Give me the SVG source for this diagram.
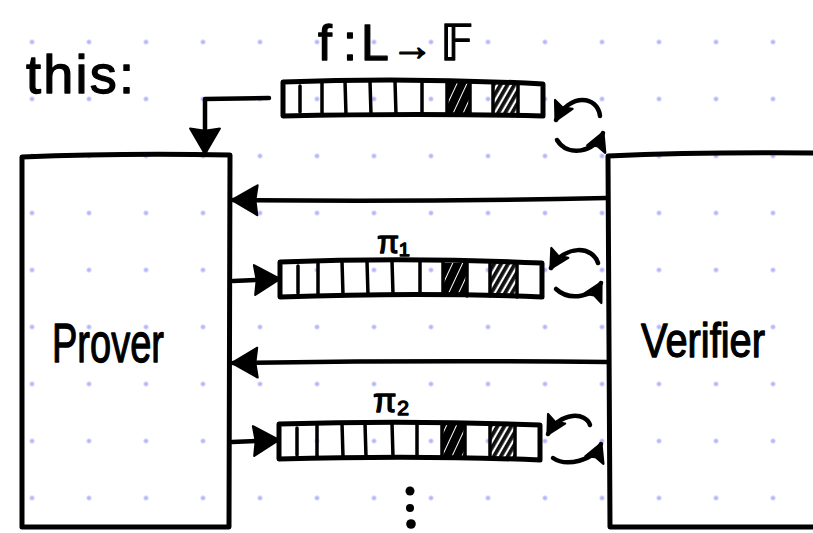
<svg xmlns="http://www.w3.org/2000/svg" width="813" height="533" viewBox="0 0 813 533">
<style>
.ln{fill:none;stroke:#000;stroke-width:4.5;stroke-linecap:round;stroke-linejoin:round}
.bx{fill:none;stroke:#000;stroke-width:5;stroke-linecap:round;stroke-linejoin:round}
.tp{fill:#fff;fill-opacity:0;stroke:#000;stroke-width:5;stroke-linejoin:round}
.cl{stroke:#000;stroke-width:3.5;stroke-linecap:round}
.hw{font-family:"Liberation Sans","DejaVu Sans",sans-serif;fill:#000;stroke:#000;stroke-width:1.3;stroke-linejoin:round}
</style>
<defs>
<pattern id="grid" patternUnits="userSpaceOnUse" x="3.5" y="13.5" width="57" height="57">
<circle cx="28.5" cy="28.5" r="2.3" fill="#b6b6fb"/>
</pattern>
<pattern id="hatch" patternUnits="userSpaceOnUse" width="6" height="6" patternTransform="rotate(-60)">
<rect width="6" height="3.8" fill="#111"/>
</pattern>
<pattern id="dense" patternUnits="userSpaceOnUse" width="9" height="9" patternTransform="rotate(-65)">
<rect width="9" height="8" fill="#000"/>
</pattern>
<marker id="ah" markerUnits="userSpaceOnUse" markerWidth="30" markerHeight="34" refX="0" refY="0" viewBox="-26 -16 28 32" orient="auto">
<path d="M1,0 L-23,-14 L-21,0 L-23,14 Z" fill="#000" stroke="#000" stroke-width="2" stroke-linejoin="round"/>
</marker>
<marker id="hs" markerUnits="userSpaceOnUse" markerWidth="22" markerHeight="24" refX="0" refY="0" viewBox="-18 -11 20 22" orient="auto">
<path d="M1,0 L-16,-9 L-13,0 L-16,9 Z" fill="#000" stroke="#000" stroke-width="2" stroke-linejoin="round"/>
</marker>
</defs>
<rect width="813" height="533" fill="#fff"/>
<rect width="813" height="533" fill="url(#grid)"/>

<g id="heading">
<text class="hw" x="26" y="93" font-size="54" textLength="108" lengthAdjust="spacing">this:</text>
</g>

<g id="prover">
<path class="bx" d="M22,157 Q120,153 230,155 L229,527 L22,527 Z"/>
<text class="hw" x="52" y="362" font-size="56" textLength="112" lengthAdjust="spacingAndGlyphs">Prover</text>
</g>

<g id="verifier">
<path class="bx" d="M816,153 Q700,152 608,156 L610,527 L816,527"/>
<text class="hw" x="641" y="357" font-size="48" textLength="124" lengthAdjust="spacingAndGlyphs">Verifier</text>
</g>

<g id="tape-f">
<text class="hw" y="60" font-size="50"><tspan x="318">f</tspan><tspan x="343">:</tspan><tspan x="361">L</tspan><tspan x="391" font-size="42">→</tspan><tspan x="440">𝔽</tspan></text>
<rect x="447" y="82" width="23" height="33" fill="url(#dense)"/>
<rect x="493" y="82" width="25" height="33" fill="url(#hatch)"/>
<path class="tp" d="M283,82 Q410,77 543,84 L543,116 Q420,113 283,116 Z"/>
<path class="cl" d="M300,86 L300,112 M322,82 L322,115 M345,81 L346,115 M370,81 L371,115 M395,81 L396,115 M422,81 L422,114 M447,82 L447,114 M470,83 L470,115 M493,83 L493,115 M518,84 L518,116"/>
</g>

<g id="tape-pi1">
<text class="hw" x="377" y="253" font-size="32">π₁</text>
<rect x="443" y="263" width="24" height="33" fill="url(#dense)"/>
<rect x="490" y="263" width="27" height="33" fill="url(#hatch)"/>
<path class="tp" d="M280,262 Q410,257 542,263 L542,297 Q420,292 280,297 Z"/>
<path class="cl" d="M298,266 L298,293 M318,262 L318,296 M342,261 L343,295 M367,261 L368,295 M392,261 L393,294 M420,261 L420,294 M443,262 L443,295 M467,262 L467,296 M490,262 L490,296 M517,263 L517,297"/>
</g>

<g id="tape-pi2">
<text class="hw" x="373" y="412" font-size="34">π₂</text>
<rect x="442" y="425" width="23" height="33" fill="url(#dense)"/>
<rect x="490" y="425" width="25" height="33" fill="url(#hatch)"/>
<path class="tp" d="M279,424 Q410,420 540,425 L540,460 Q420,455 279,459 Z"/>
<path class="cl" d="M297,428 L297,455 M317,424 L317,458 M342,423 L343,457 M365,423 L366,457 M392,423 L393,457 M417,423 L417,456 M442,424 L442,457 M465,424 L465,458 M490,424 L490,458 M515,424 L515,459"/>
</g>

<g id="ellipsis">
<circle cx="410" cy="491" r="4.5"/>
<circle cx="410" cy="508" r="4"/>
<circle cx="411" cy="524" r="4.8"/>
</g>

<g id="connectors">
<path class="ln" d="M269,98 L205,99 L205,153" marker-end="url(#ah)"/>
<path class="ln" d="M607,198 Q420,202 233,200" marker-end="url(#ah)"/>
<path class="ln" d="M233,281 L279,279" marker-end="url(#ah)"/>
<path class="ln" d="M607,362 Q420,360 233,363" marker-end="url(#ah)"/>
<path class="ln" d="M232,442 L278,440" marker-end="url(#ah)"/>
<path class="ln" d="M600,116 C598,96 570,92 556,120" marker-end="url(#hs)"/>
<path class="ln" d="M557,140 C568,158 595,152 603,133" marker-end="url(#hs)"/>
<path class="ln" d="M598,263 C593,246 565,244 551,268" marker-end="url(#hs)"/>
<path class="ln" d="M556,289 C570,302 594,296 601,283" marker-end="url(#hs)"/>
<path class="ln" d="M590,425 C586,412 561,411 548,434" marker-end="url(#hs)"/>
<path class="ln" d="M553,458 C566,467 594,461 601,444" marker-end="url(#hs)"/>
</g>
</svg>
